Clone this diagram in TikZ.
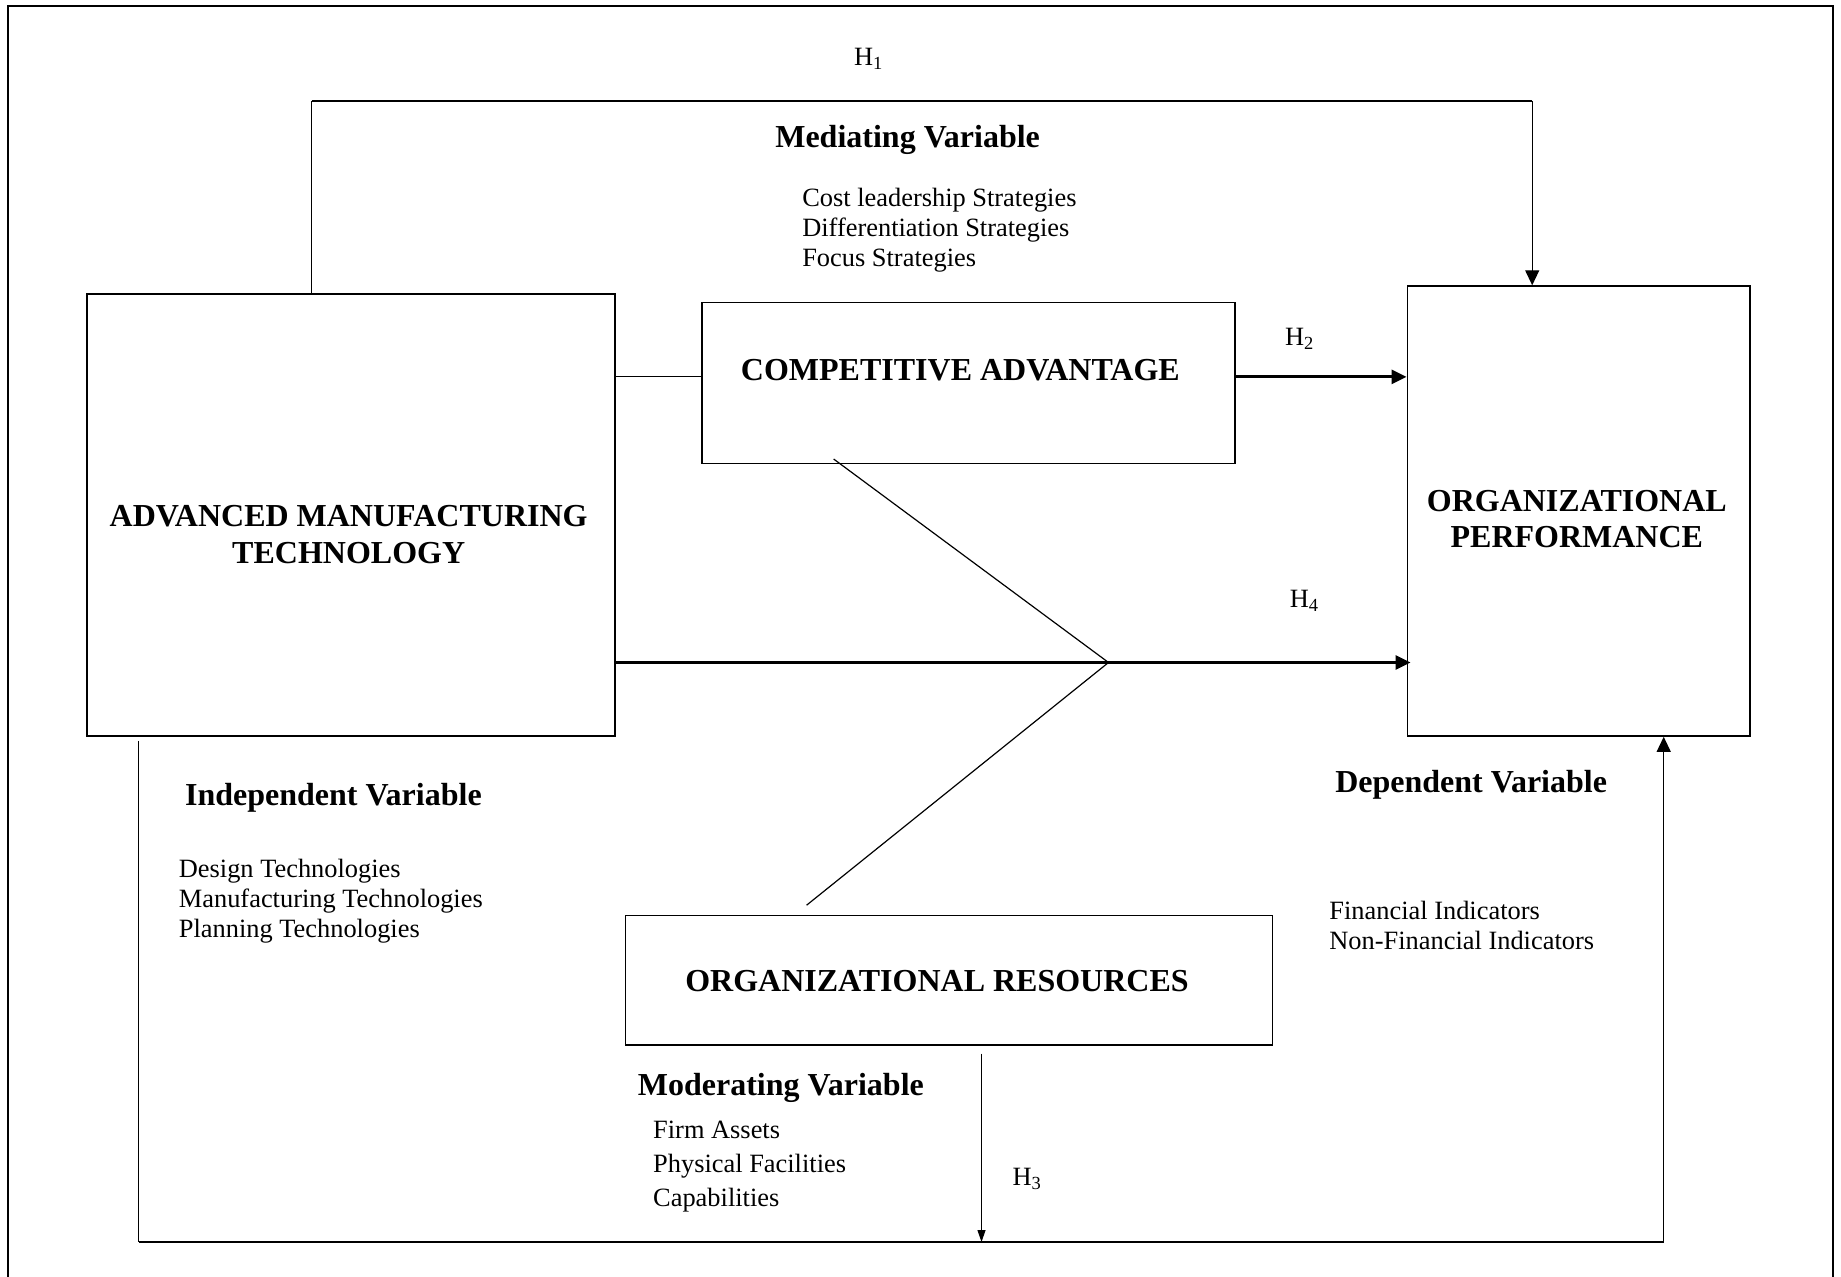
\documentclass[tikz,border=0pt]{standalone}
\usepackage{fontspec}
\setmainfont{Liberation Serif}
\usetikzlibrary{arrows.meta}

\tikzset{
  box/.style={draw, line width=0.9pt, inner sep=0pt, anchor=north west},
  title/.style={font=\fontsize{16}{18.3}\selectfont\bfseries, inner sep=0pt, align=center},
  item/.style={font=\fontsize{13.2}{15}\selectfont, inner sep=0pt, align=left, anchor=west},
  hyp/.style={font=\fontsize{13.2}{15}\selectfont, inner sep=0pt},
  thinline/.style={line width=0.6pt},
  thickline/.style={line width=1.4pt},
  tip/.style={-{Triangle[length=7.5pt,width=7pt]}},
  smalltip/.style={-{Triangle[length=6pt,width=4pt]}},
}

\begin{document}
\begin{tikzpicture}[x=0.5pt,y=-0.5pt]
\useasboundingbox (0,0) rectangle (1841,1277);

% outer frame (open at the bottom)
\draw[line width=1pt] (7.5,1277) -- (7.5,6.5) -- (1833,6.5) -- (1833,1277);

% boxes
\node[box, minimum width=264.15pt, minimum height=220.75pt] (amt) at (85.7,293.5) {};
\node[box, minimum width=266.5pt, minimum height=80.45pt] (ca) at (701,301.7) {};
\node[box, minimum width=171.4pt, minimum height=224.85pt] (op) at (1406.6,285.3) {};
\node[box, minimum width=323.45pt, minimum height=64.6pt] (or) at (624.6,914.6) {};

% box texts
\node[title] (amtT) at (348.7,534.5) {ADVANCED MANUFACTURING\\TECHNOLOGY};
\node[title] (caT) at (960.4,370) {COMPETITIVE ADVANTAGE};
\node[title] (opT) at (1576.8,519) {ORGANIZATIONAL\\PERFORMANCE};
\node[title] (orT) at (937,981) {ORGANIZATIONAL RESOURCES};

% headings and lists
\node[title] (medT) at (907.6,139.5) {Mediating Variable};
\node[item] (medL) at (801.9,230.5) {Cost leadership Strategies\\Differentiation Strategies\\Focus Strategies};
\node[title] (indT) at (333.4,798) {Independent Variable};
\node[item] (indL) at (178.5,901) {Design Technologies\\Manufacturing Technologies\\Planning Technologies};
\node[title] (depT) at (1471.1,785) {Dependent Variable};
\node[item] (depL) at (1329,925.5) {Financial Indicators\\Non-Financial Indicators};
\node[title, anchor=west] (modT) at (637.5,1088) {Moderating Variable};
\node[item, font=\fontsize{13.2}{17}\selectfont] (modL) at (652.8,1167) {Firm Assets\\Physical Facilities\\Capabilities};

% hypothesis labels
\node[hyp] (h1) at (868.8,58.5) {H\textsubscript{1}};
\node[hyp] (h2) at (1299.7,338.5) {H\textsubscript{2}};
\node[hyp] (h4) at (1304.4,600.5) {H\textsubscript{4}};
\node[hyp] (h3) at (1027.3,1178.5) {H\textsubscript{3}};

% helper coordinates
\coordinate (h1l) at (311.5,101);
\coordinate (h1r) at (1532.2,101);
\coordinate (lk) at (650,376.9);
\coordinate (jn) at (1108.5,662.5);
\coordinate (d1) at (833.6,459);
\coordinate (d2) at (806.6,905.2);
\coordinate (bl) at (138.8,1242);
\coordinate (br) at (1663.7,1242);
\coordinate (ob) at (981.5,1242);

% H1 path
\draw[thinline] (amt.north -| h1l) -- (h1l);
\draw[line width=0.9pt] (h1l) -- (h1r);
\draw[thinline, tip] (h1r) -- (op.north -| h1r);

% AMT -- CA link
\draw[thinline] (amt.east |- lk) -- (ca.west |- lk);

% H2
\draw[thickline, tip] (ca.east |- lk) -- (op.west |- lk);

% H4
\draw[thickline, tip] (amt.east |- jn) -- ([xshift=2pt]op.west |- jn);

% moderating diagonals
\draw[thinline] (d1) -- (jn) -- (d2);

% bottom loop
\draw[thinline] ([yshift=-2pt]amt.south -| bl) -- (bl);
\draw[line width=0.8pt] (bl) -- (br);
\draw[thinline, tip] (br) -- (op.south -| br);

% H3 arrow
\draw[thinline, smalltip] ([yshift=-4pt]or.south -| ob) -- (ob);
\end{tikzpicture}
\end{document}
